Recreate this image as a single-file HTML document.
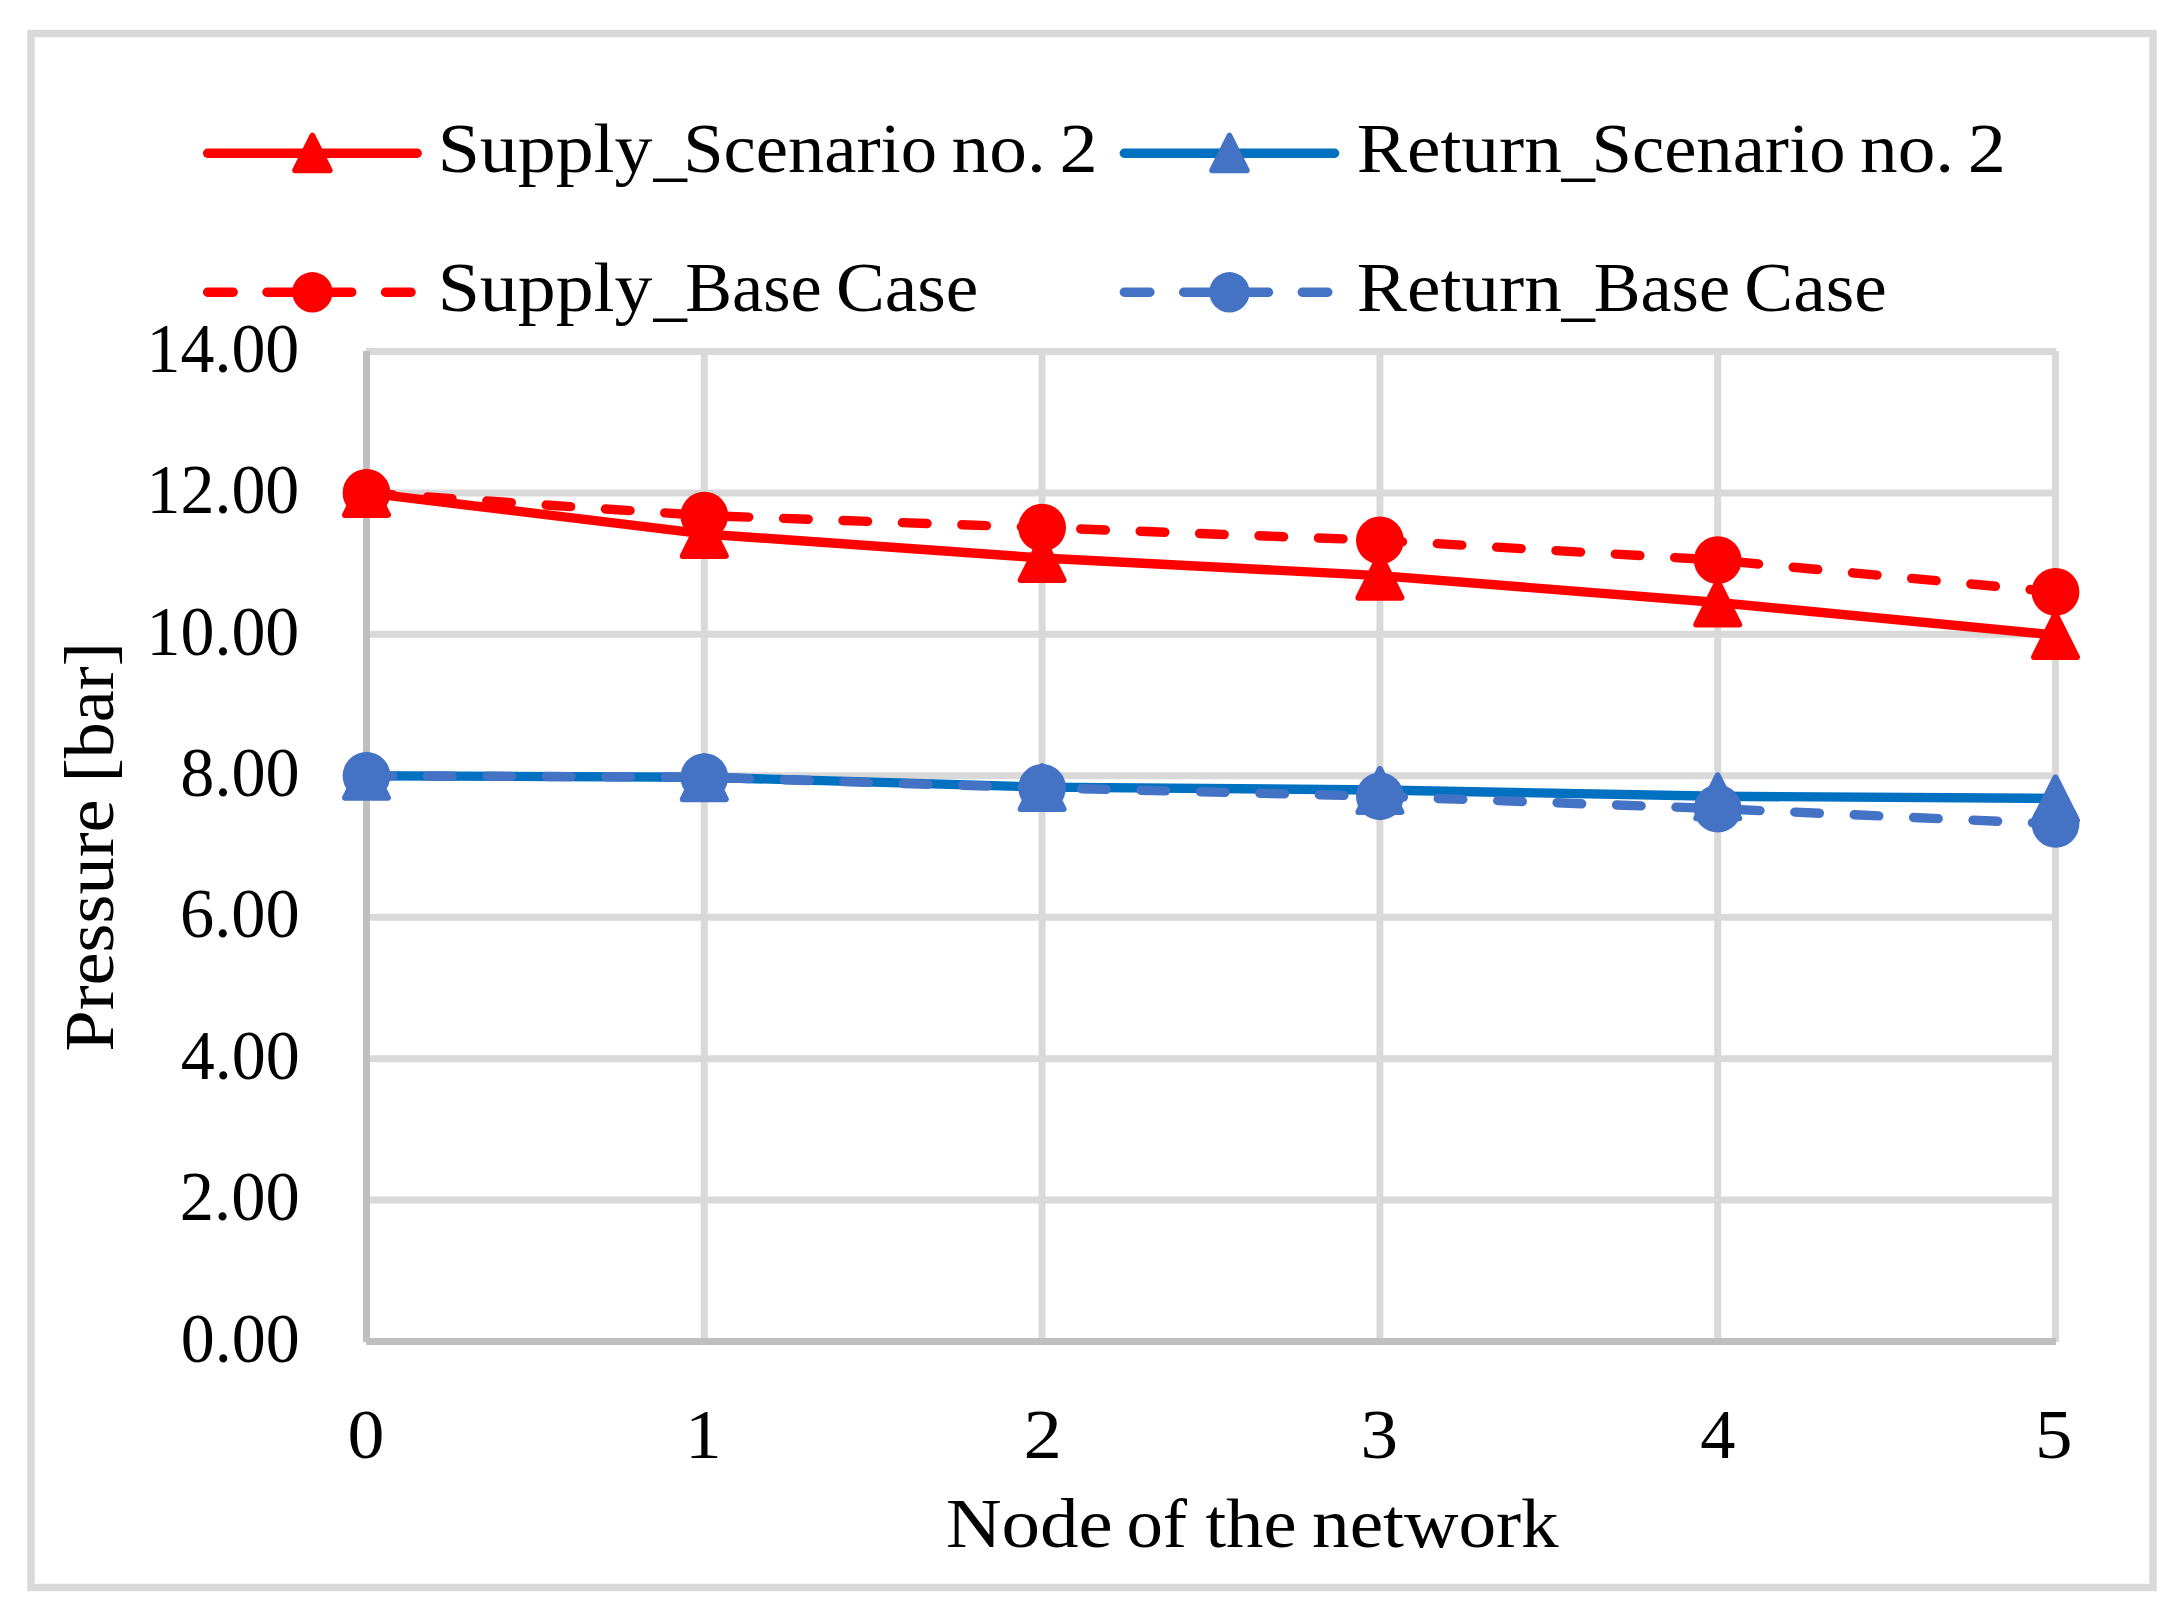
<!DOCTYPE html>
<html lang="en"><head><meta charset="utf-8"><title>Pressure along the network</title>
<style>
html,body{margin:0;padding:0;background:#fff;}
body{width:2183px;height:1616px;overflow:hidden;}
svg{display:block;}
text{font-family:"Liberation Serif",serif;fill:#000;}
</style></head><body>
<svg width="2183" height="1616" viewBox="0 0 2183 1616">
<rect x="0" y="0" width="2183" height="1616" fill="#fff"/>
<rect x="31" y="33.5" width="2122" height="1554" fill="#fff" stroke="#D9D9D9" stroke-width="7.5"/>

<g stroke="#D9D9D9" stroke-width="7" fill="none">
<line x1="366" y1="1200.07" x2="2056" y2="1200.07"/>
<line x1="366" y1="1058.64" x2="2056" y2="1058.64"/>
<line x1="366" y1="917.21" x2="2056" y2="917.21"/>
<line x1="366" y1="775.79" x2="2056" y2="775.79"/>
<line x1="366" y1="634.36" x2="2056" y2="634.36"/>
<line x1="366" y1="492.93" x2="2056" y2="492.93"/>
<line x1="366" y1="351.50" x2="2056" y2="351.50"/>
<line x1="704.30" y1="351" x2="704.30" y2="1342"/>
<line x1="1042.10" y1="351" x2="1042.10" y2="1342"/>
<line x1="1379.90" y1="351" x2="1379.90" y2="1342"/>
<line x1="1717.70" y1="351" x2="1717.70" y2="1342"/>
<line x1="2055.50" y1="351" x2="2055.50" y2="1342"/>
</g>
<g stroke="#BFBFBF" stroke-width="7" fill="none">
<line x1="366.5" y1="351" x2="366.5" y2="1342"/>
<line x1="366" y1="1341.5" x2="2056" y2="1341.5"/>
</g>
<polyline points="366.50,492.93 704.30,533.94 1042.10,557.99 1379.90,575.66 1717.70,602.54 2055.50,635.06" fill="none" stroke="#FF0000" stroke-width="9.4" stroke-linecap="round" stroke-linejoin="round"/>
<path d="M366.50 471.93 L388.00 514.93 L345.00 514.93 Z" fill="#FF0000" stroke="#FF0000" stroke-width="6.0" stroke-linejoin="round"/>
<path d="M704.30 512.94 L725.80 555.94 L682.80 555.94 Z" fill="#FF0000" stroke="#FF0000" stroke-width="6.0" stroke-linejoin="round"/>
<path d="M1042.10 536.99 L1063.60 579.99 L1020.60 579.99 Z" fill="#FF0000" stroke="#FF0000" stroke-width="6.0" stroke-linejoin="round"/>
<path d="M1379.90 554.66 L1401.40 597.66 L1358.40 597.66 Z" fill="#FF0000" stroke="#FF0000" stroke-width="6.0" stroke-linejoin="round"/>
<path d="M1717.70 581.54 L1739.20 624.54 L1696.20 624.54 Z" fill="#FF0000" stroke="#FF0000" stroke-width="6.0" stroke-linejoin="round"/>
<path d="M2055.50 614.06 L2077.00 657.06 L2034.00 657.06 Z" fill="#FF0000" stroke="#FF0000" stroke-width="6.0" stroke-linejoin="round"/>
<polyline points="366.50,775.79 704.30,777.20 1042.10,787.10 1379.90,789.93 1717.70,796.29 2055.50,798.41" fill="none" stroke="#0070C0" stroke-width="9.4" stroke-linecap="round" stroke-linejoin="round"/>
<path d="M366.50 754.79 L388.00 797.79 L345.00 797.79 Z" fill="#4472C4" stroke="#4472C4" stroke-width="6.0" stroke-linejoin="round"/>
<path d="M704.30 756.20 L725.80 799.20 L682.80 799.20 Z" fill="#4472C4" stroke="#4472C4" stroke-width="6.0" stroke-linejoin="round"/>
<path d="M1042.10 766.10 L1063.60 809.10 L1020.60 809.10 Z" fill="#4472C4" stroke="#4472C4" stroke-width="6.0" stroke-linejoin="round"/>
<path d="M1379.90 768.93 L1401.40 811.93 L1358.40 811.93 Z" fill="#4472C4" stroke="#4472C4" stroke-width="6.0" stroke-linejoin="round"/>
<path d="M1717.70 775.29 L1739.20 818.29 L1696.20 818.29 Z" fill="#4472C4" stroke="#4472C4" stroke-width="6.0" stroke-linejoin="round"/>
<path d="M2055.50 777.41 L2077.00 820.41 L2034.00 820.41 Z" fill="#4472C4" stroke="#4472C4" stroke-width="6.0" stroke-linejoin="round"/>
<polyline points="366.50,492.93 704.30,515.56 1042.10,527.58 1379.90,540.31 1717.70,560.11 2055.50,591.93" fill="none" stroke="#FF0000" stroke-width="9.4" stroke-linecap="round" stroke-linejoin="round" stroke-dasharray="24.6 34.87" stroke-dashoffset="-1.6"/>
<circle cx="366.50" cy="492.93" r="23.9" fill="#FF0000"/>
<circle cx="704.30" cy="515.56" r="23.9" fill="#FF0000"/>
<circle cx="1042.10" cy="527.58" r="23.9" fill="#FF0000"/>
<circle cx="1379.90" cy="540.31" r="23.9" fill="#FF0000"/>
<circle cx="1717.70" cy="560.11" r="23.9" fill="#FF0000"/>
<circle cx="2055.50" cy="591.93" r="23.9" fill="#FF0000"/>
<polyline points="366.50,775.79 704.30,777.20 1042.10,787.81 1379.90,796.29 1717.70,808.67 2055.50,823.87" fill="none" stroke="#4472C4" stroke-width="9.4" stroke-linecap="round" stroke-linejoin="round" stroke-dasharray="24.6 34.87" stroke-dashoffset="-1.6"/>
<circle cx="366.50" cy="775.79" r="23.9" fill="#4472C4"/>
<circle cx="704.30" cy="777.20" r="23.9" fill="#4472C4"/>
<circle cx="1042.10" cy="787.81" r="23.9" fill="#4472C4"/>
<circle cx="1379.90" cy="796.29" r="23.9" fill="#4472C4"/>
<circle cx="1717.70" cy="808.67" r="23.9" fill="#4472C4"/>
<circle cx="2055.50" cy="823.87" r="23.9" fill="#4472C4"/>
<line x1="207.60" y1="153.2" x2="417.20" y2="153.2" stroke="#FF0000" stroke-width="9.4" stroke-linecap="round"/><path d="M312.40 135.75 L329.65 170.25 L295.15 170.25 Z" fill="#FF0000" stroke="#FF0000" stroke-width="6.0" stroke-linejoin="round"/>
<line x1="1124.30" y1="153.2" x2="1334.60" y2="153.2" stroke="#0070C0" stroke-width="9.4" stroke-linecap="round"/><path d="M1229.45 135.75 L1246.70 170.25 L1212.20 170.25 Z" fill="#4472C4" stroke="#4472C4" stroke-width="6.0" stroke-linejoin="round"/>
<line x1="207.60" y1="292.3" x2="417.20" y2="292.3" stroke="#FF0000" stroke-width="9.4" stroke-linecap="round" stroke-dasharray="25.6 33.7"/><circle cx="312.40" cy="292.30" r="20.2" fill="#FF0000"/>
<line x1="1124.30" y1="292.3" x2="1334.60" y2="292.3" stroke="#4472C4" stroke-width="9.4" stroke-linecap="round" stroke-dasharray="25.6 33.7"/><circle cx="1229.45" cy="292.30" r="20.2" fill="#4472C4"/>
<text y="171.8" font-size="70"><tspan x="437.66" textLength="214.87" lengthAdjust="spacingAndGlyphs">Supply</tspan><tspan x="653.38" dy="1.5" textLength="33.44" lengthAdjust="spacingAndGlyphs">_</tspan><tspan x="683.18" dy="-1.5" textLength="253.88" lengthAdjust="spacingAndGlyphs">Scenario</tspan> <tspan x="951.59" textLength="94.16" lengthAdjust="spacingAndGlyphs">no.</tspan> <tspan x="1059.43" textLength="38.16" lengthAdjust="spacingAndGlyphs">2</tspan></text>
<text y="171.8" font-size="70"><tspan x="1356.65" textLength="205.27" lengthAdjust="spacingAndGlyphs">Return</tspan><tspan x="1561.38" dy="1.5" textLength="33.44" lengthAdjust="spacingAndGlyphs">_</tspan><tspan x="1591.58" dy="-1.5" textLength="253.88" lengthAdjust="spacingAndGlyphs">Scenario</tspan> <tspan x="1859.99" textLength="94.16" lengthAdjust="spacingAndGlyphs">no.</tspan> <tspan x="1967.83" textLength="38.16" lengthAdjust="spacingAndGlyphs">2</tspan></text>
<text y="311.3" font-size="70"><tspan x="437.66" textLength="214.87" lengthAdjust="spacingAndGlyphs">Supply</tspan><tspan x="653.38" dy="1.5" textLength="33.44" lengthAdjust="spacingAndGlyphs">_</tspan><tspan x="685.30" dy="-1.5" textLength="136.34" lengthAdjust="spacingAndGlyphs">Base</tspan> <tspan x="835.92" textLength="142.41" lengthAdjust="spacingAndGlyphs">Case</tspan></text>
<text y="311.3" font-size="70"><tspan x="1356.65" textLength="205.27" lengthAdjust="spacingAndGlyphs">Return</tspan><tspan x="1561.38" dy="1.5" textLength="33.44" lengthAdjust="spacingAndGlyphs">_</tspan><tspan x="1593.70" dy="-1.5" textLength="136.34" lengthAdjust="spacingAndGlyphs">Base</tspan> <tspan x="1744.32" textLength="142.41" lengthAdjust="spacingAndGlyphs">Case</tspan></text>
<text y="1361.7" font-size="70"><tspan x="180.73" textLength="118.94" lengthAdjust="spacingAndGlyphs">0.00</tspan></text>
<text y="1220.3" font-size="70"><tspan x="179.87" textLength="119.82" lengthAdjust="spacingAndGlyphs">2.00</tspan></text>
<text y="1078.8" font-size="70"><tspan x="180.69" textLength="118.99" lengthAdjust="spacingAndGlyphs">4.00</tspan></text>
<text y="937.4" font-size="70"><tspan x="180.07" textLength="119.61" lengthAdjust="spacingAndGlyphs">6.00</tspan></text>
<text y="796.0" font-size="70"><tspan x="180.32" textLength="119.36" lengthAdjust="spacingAndGlyphs">8.00</tspan></text>
<text y="654.6" font-size="70"><tspan x="146.54" textLength="152.73" lengthAdjust="spacingAndGlyphs">10.00</tspan></text>
<text y="513.1" font-size="70"><tspan x="146.54" textLength="152.73" lengthAdjust="spacingAndGlyphs">12.00</tspan></text>
<text y="371.7" font-size="70"><tspan x="146.54" textLength="152.73" lengthAdjust="spacingAndGlyphs">14.00</tspan></text>
<text y="1458" font-size="70"><tspan x="347.50" textLength="36.90" lengthAdjust="spacingAndGlyphs">0</tspan></text>
<text y="1458" font-size="70"><tspan x="685.04" textLength="36.71" lengthAdjust="spacingAndGlyphs">1</tspan></text>
<text y="1458" font-size="70"><tspan x="1023.51" textLength="38.41" lengthAdjust="spacingAndGlyphs">2</tspan></text>
<text y="1458" font-size="70"><tspan x="1360.41" textLength="37.53" lengthAdjust="spacingAndGlyphs">3</tspan></text>
<text y="1458" font-size="70"><tspan x="1700.34" textLength="35.16" lengthAdjust="spacingAndGlyphs">4</tspan></text>
<text y="1458" font-size="70"><tspan x="2035.01" textLength="37.54" lengthAdjust="spacingAndGlyphs">5</tspan></text>
<text y="1546.7" font-size="70"><tspan x="945.90" textLength="166.71" lengthAdjust="spacingAndGlyphs">Node</tspan> <tspan x="1126.44" textLength="60.62" lengthAdjust="spacingAndGlyphs">of</tspan> <tspan x="1205.40" textLength="91.09" lengthAdjust="spacingAndGlyphs">the</tspan> <tspan x="1311.99" textLength="246.80" lengthAdjust="spacingAndGlyphs">network</tspan></text>
<text y="0" font-size="70" transform="translate(113.2,1049.6) rotate(-90)"><tspan x="-2.13" textLength="252.22" lengthAdjust="spacingAndGlyphs">Pressure</tspan> <tspan x="267.30" textLength="140.03" lengthAdjust="spacingAndGlyphs">[bar]</tspan></text>
</svg></body></html>
